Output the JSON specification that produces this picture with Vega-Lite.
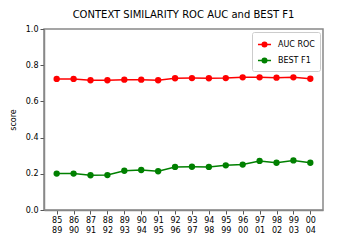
{
  "$schema": "https://vega.github.io/schema/vega-lite/v6.json",
  "autosize": {"type": "none"},
  "width": 279,
  "height": 181,
  "padding": {"left": 44, "top": 29, "right": 37, "bottom": 30},
  "background": "white",
  "title": {"text": "CONTEXT SIMILARITY ROC AUC and BEST F1", "fontSize": 10, "fontWeight": "normal", "font": "DejaVu Sans", "color": "black", "offset": 5},
  "config": {
    "font": "DejaVu Sans",
    "view": {"stroke": "#888888", "strokeWidth": 1.5},
    "axis": {"domainColor": "#888888", "domainWidth": 1.5, "tickColor": "#555555", "labelColor": "black", "labelFontSize": 8, "grid": false, "titleFontWeight": "normal", "titleFontSize": 8, "titleColor": "black"}
  },
  "data": {"values": [
    {"period": "85-89", "series": "AUC ROC", "score": 0.724},
    {"period": "86-90", "series": "AUC ROC", "score": 0.724},
    {"period": "87-91", "series": "AUC ROC", "score": 0.717},
    {"period": "88-92", "series": "AUC ROC", "score": 0.717},
    {"period": "89-93", "series": "AUC ROC", "score": 0.720},
    {"period": "90-94", "series": "AUC ROC", "score": 0.720},
    {"period": "91-95", "series": "AUC ROC", "score": 0.717},
    {"period": "92-96", "series": "AUC ROC", "score": 0.728},
    {"period": "93-97", "series": "AUC ROC", "score": 0.729},
    {"period": "94-98", "series": "AUC ROC", "score": 0.728},
    {"period": "95-99", "series": "AUC ROC", "score": 0.729},
    {"period": "96-00", "series": "AUC ROC", "score": 0.733},
    {"period": "97-01", "series": "AUC ROC", "score": 0.733},
    {"period": "98-02", "series": "AUC ROC", "score": 0.731},
    {"period": "99-03", "series": "AUC ROC", "score": 0.733},
    {"period": "00-04", "series": "AUC ROC", "score": 0.725},
    {"period": "85-89", "series": "BEST F1", "score": 0.201},
    {"period": "86-90", "series": "BEST F1", "score": 0.201},
    {"period": "87-91", "series": "BEST F1", "score": 0.192},
    {"period": "88-92", "series": "BEST F1", "score": 0.193},
    {"period": "89-93", "series": "BEST F1", "score": 0.217},
    {"period": "90-94", "series": "BEST F1", "score": 0.221},
    {"period": "91-95", "series": "BEST F1", "score": 0.214},
    {"period": "92-96", "series": "BEST F1", "score": 0.238},
    {"period": "93-97", "series": "BEST F1", "score": 0.239},
    {"period": "94-98", "series": "BEST F1", "score": 0.238},
    {"period": "95-99", "series": "BEST F1", "score": 0.247},
    {"period": "96-00", "series": "BEST F1", "score": 0.251},
    {"period": "97-01", "series": "BEST F1", "score": 0.271},
    {"period": "98-02", "series": "BEST F1", "score": 0.261},
    {"period": "99-03", "series": "BEST F1", "score": 0.274},
    {"period": "00-04", "series": "BEST F1", "score": 0.261}
  ]},
  "mark": {"type": "line", "strokeWidth": 1.5, "point": {"filled": true, "size": 40, "opacity": 1}},
  "encoding": {
    "x": {
      "field": "period", "type": "ordinal", "sort": null,
      "scale": {"type": "point", "padding": 0.75},
      "axis": {"title": null, "labelAngle": 0, "labelExpr": "split(datum.value, '-')", "labelLineHeight": 10, "tickSize": 4, "labelPadding": 2}
    },
    "y": {
      "field": "score", "type": "quantitative",
      "scale": {"domain": [0, 1]},
      "axis": {"title": "score", "values": [0, 0.2, 0.4, 0.6, 0.8, 1.0], "format": ".1f", "tickSize": 4, "titlePadding": 8}
    },
    "color": {
      "field": "series", "type": "nominal",
      "scale": {"domain": ["AUC ROC", "BEST F1"], "range": ["#ff0000", "#008000"]},
      "legend": {
        "title": null, "orient": "top-right", "offset": 3,
        "strokeColor": "#cccccc", "fillColor": "white", "padding": 5, "cornerRadius": 2,
        "labelFontSize": 8, "labelColor": "black", "rowPadding": 3, "labelOffset": 6,
        "symbolType": "M-1,0L1,0M-0.35,0A0.35,0.35 0 1,1 0.35,0A0.35,0.35 0 1,1 -0.35,0Z",
        "symbolSize": 170, "symbolStrokeWidth": 1.5,
        "encode": {"symbols": {"update": {"fill": {"scale": "color", "field": "value"}, "stroke": {"scale": "color", "field": "value"}, "opacity": {"value": 1}}}}
      }
    }
  }
}
